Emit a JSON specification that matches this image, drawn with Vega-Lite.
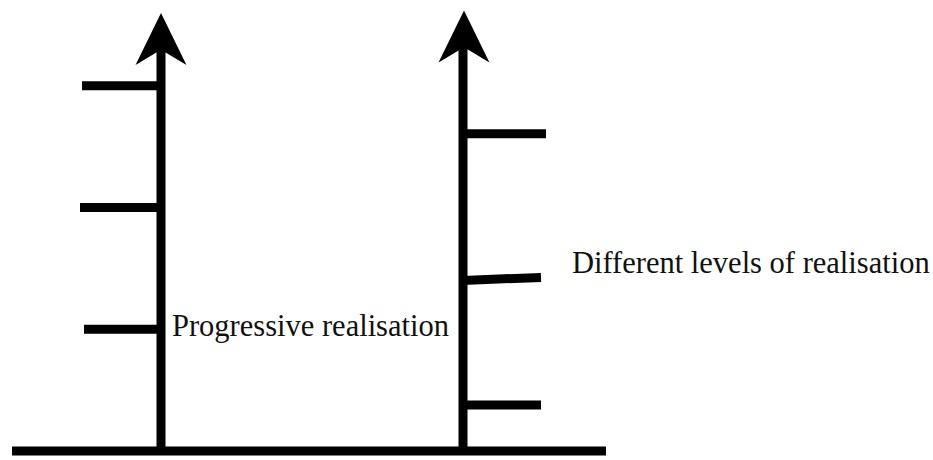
{
  "$schema": "https://vega.github.io/schema/vega-lite/v6.json",
  "width": 933,
  "height": 460,
  "autosize": {"type": "fit", "contains": "padding"},
  "padding": 0,
  "background": "white",
  "config": {"view": {"stroke": null}},
  "datasets": {
    "segments": [
      {"part": "baseline", "x": 12, "y": 452, "x2": 606, "y2": 452},
      {"part": "left shaft", "x": 161, "y": 456, "x2": 161, "y2": 45},
      {"part": "right shaft", "x": 463, "y": 456, "x2": 463, "y2": 42},
      {"part": "left tick 1", "x": 82, "y": 86, "x2": 161, "y2": 86},
      {"part": "left tick 2", "x": 80, "y": 208, "x2": 161, "y2": 208},
      {"part": "left tick 3", "x": 84, "y": 330, "x2": 161, "y2": 330},
      {"part": "right tick 1", "x": 463, "y": 134, "x2": 546, "y2": 134},
      {"part": "right tick 2", "x": 463, "y": 281, "x2": 541, "y2": 278},
      {"part": "right tick 3", "x": 463, "y": 406, "x2": 541, "y2": 406}
    ],
    "heads": [
      {"x": 161, "y": 39},
      {"x": 464, "y": 36.5}
    ],
    "labels": [
      {"x": 172, "y": 337, "text": "Progressive realisation"},
      {"x": 572, "y": 274, "text": "Different levels of realisation"}
    ]
  },
  "layer": [
    {
      "data": {"name": "segments"},
      "mark": {"type": "rule", "color": "black", "strokeWidth": 9, "strokeCap": "butt"},
      "encoding": {
        "x": {"field": "x", "type": "quantitative", "scale": {"domain": [0, 933], "nice": false, "zero": false}, "axis": null},
        "y": {"field": "y", "type": "quantitative", "scale": {"domain": [460, 0], "nice": false, "zero": false}, "axis": null},
        "x2": {"field": "x2"},
        "y2": {"field": "y2"}
      }
    },
    {
      "data": {"name": "heads"},
      "mark": {"type": "point", "filled": true, "color": "black", "opacity": 1, "strokeWidth": 0, "size": 2704, "shape": "M0,-1L0.98,1L0,0.42L-0.98,1Z"},
      "encoding": {
        "x": {"field": "x", "type": "quantitative", "scale": {"domain": [0, 933], "nice": false, "zero": false}, "axis": null},
        "y": {"field": "y", "type": "quantitative", "scale": {"domain": [460, 0], "nice": false, "zero": false}, "axis": null}
      }
    },
    {
      "data": {"name": "labels"},
      "mark": {"type": "text", "align": "left", "baseline": "alphabetic", "font": "Liberation Serif", "fontSize": 30.5, "color": "#111111"},
      "encoding": {
        "x": {"field": "x", "type": "quantitative", "scale": {"domain": [0, 933], "nice": false, "zero": false}, "axis": null},
        "y": {"field": "y", "type": "quantitative", "scale": {"domain": [460, 0], "nice": false, "zero": false}, "axis": null},
        "text": {"field": "text"}
      }
    }
  ]
}
